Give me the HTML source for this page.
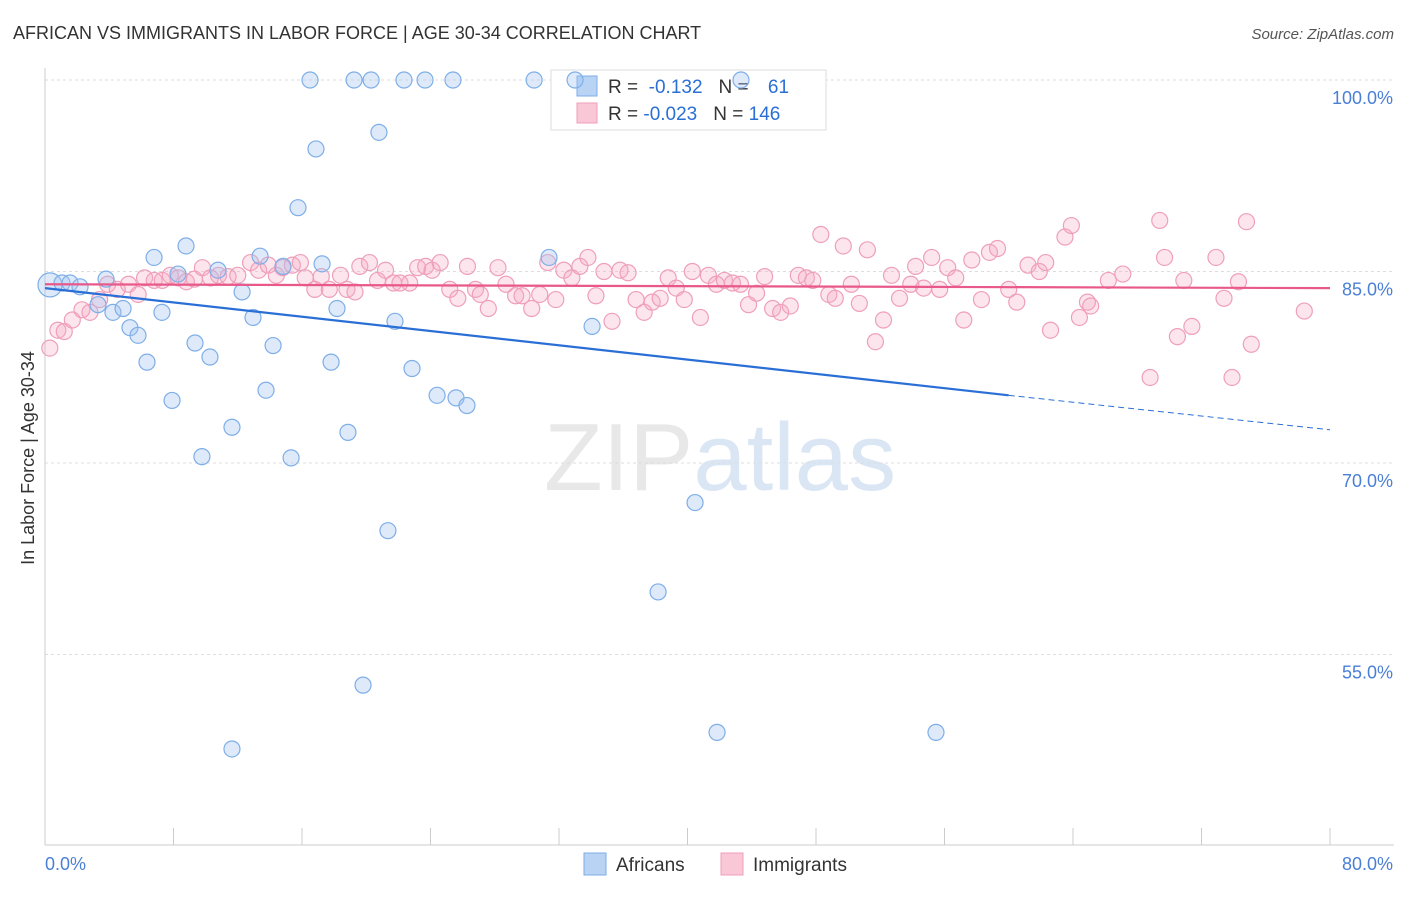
<!DOCTYPE html>
<html><head><meta charset="utf-8">
<style>
body{margin:0;background:#fff;font-family:"Liberation Sans",sans-serif;}
svg text{font-family:"Liberation Sans",sans-serif;}
</style></head>
<body>
<svg id="chart" width="1406" height="892" xmlns="http://www.w3.org/2000/svg">
<text x="13" y="39" font-size="18" fill="#333">AFRICAN VS IMMIGRANTS IN LABOR FORCE | AGE 30-34 CORRELATION CHART</text>
<text x="1394" y="39" font-size="15" fill="#555" text-anchor="end" font-style="italic">Source: ZipAtlas.com</text>
<text x="720" y="490" font-size="96" text-anchor="middle" fill="#e8e8e8" font-family="Liberation Serif">ZIP<tspan fill="#dbe6f5" font-family="Liberation Sans">atlas</tspan></text>
<g id="grid"></g>
<g id="axes"></g>
<g>
<rect x="551" y="70" width="275" height="60" fill="#fff" stroke="#ddd"/>
<rect x="577" y="76" width="20" height="20" fill="#b9d3f5" stroke="#7eaee8"/>
<rect x="577" y="103" width="20" height="20" fill="#f9c7d6" stroke="#ef9fba"/>
<text x="608" y="93" font-size="19" fill="#333">R = <tspan fill="#2a6fd6">&#160;-0.132</tspan><tspan dx="16">N = </tspan><tspan fill="#2a6fd6" dx="14">61</tspan></text>
<text x="608" y="120" font-size="19" fill="#333">R = <tspan fill="#2a6fd6">-0.023</tspan><tspan dx="16">N = </tspan><tspan fill="#2a6fd6">146</tspan></text>
</g>
<g id="pink"></g>
<g id="blue"></g>
<g id="trends"></g>
<text transform="translate(34,458) rotate(-90)" font-size="18" fill="#333" text-anchor="middle">In Labor Force | Age 30-34</text>
<g>
<rect x="584" y="853" width="22" height="22" fill="#b9d3f5" stroke="#7eaee8"/>
<text x="616" y="871" font-size="19" fill="#333">Africans</text>
<rect x="721" y="853" width="22" height="22" fill="#f9c7d6" stroke="#ef9fba"/>
<text x="753" y="871" font-size="19" fill="#333">Immigrants</text>
</g>
</svg>
<script>
const yTicks=[100,85,70,55];
const yTickLabels=["100.0%","85.0%","70.0%","55.0%"];
const xTickVals=[0,8,16,24,32,40,48,56,64,72,80];
const blueX=[0.31,1.06,1.56,2.18,3.30,3.80,4.23,4.86,5.29,5.79,6.35,6.79,7.28,7.91,8.28,8.78,9.34,9.77,10.27,10.77,11.64,12.27,12.95,13.39,13.76,14.20,14.82,15.32,15.75,16.50,16.87,17.25,17.81,18.18,18.86,19.24,19.80,20.30,20.79,21.35,21.79,22.35,22.85,23.66,24.41,25.40,25.59,26.27,30.45,31.38,33.00,34.06,38.17,40.47,41.84,43.33,55.47,11.64];
const blueY=[83.95,84.1,84.1,83.8,82.4,84.4,81.8,82.1,80.6,80.0,77.9,86.1,81.8,74.9,84.8,87.0,79.4,70.5,78.3,85.1,72.8,83.4,81.4,86.2,75.7,79.2,85.4,70.4,90.0,100,94.6,85.6,77.9,82.1,72.4,100,52.6,100,95.9,64.7,81.1,100,77.4,100,75.3,100,75.1,74.5,100,86.1,100,80.7,59.9,66.9,48.9,100,48.9,47.6];
const pinkX=[0.3,0.8,1.2,1.7,2.3,2.8,3.4,3.9,4.5,5.2,5.8,6.2,6.8,7.3,7.8,8.3,8.8,9.3,9.8,10.3,10.8,11.4,12.0,12.8,13.3,13.9,14.4,14.8,15.4,15.9,16.2,16.8,17.2,17.7,18.4,18.8,19.3,19.6,20.2,20.7,21.2,21.7,22.1,22.7,23.2,23.7,24.1,24.6,25.2,25.7,26.3,26.8,27.1,27.6,28.2,28.7,29.3,29.7,30.3,30.8,31.3,31.8,32.3,32.8,33.3,33.8,34.3,34.8,35.3,35.8,36.3,36.8,37.3,37.8,38.3,38.8,39.3,39.8,40.3,40.8,41.3,41.8,42.3,42.8,43.3,43.8,44.3,44.8,45.3,45.8,46.4,46.9,47.4,47.8,48.3,48.8,49.2,49.7,50.2,50.7,51.2,51.7,52.2,52.7,53.2,53.9,54.2,54.7,55.2,55.7,56.2,56.7,57.2,57.7,58.3,58.8,59.3,60.0,60.5,61.2,61.9,62.3,62.6,63.5,63.9,64.4,64.9,65.1,66.2,67.1,68.8,69.4,69.7,70.5,70.9,71.4,72.9,73.4,73.9,74.3,74.8,75.1,78.4];
const pinkY=[79.0,80.4,80.3,81.2,82.0,81.8,82.8,84.0,83.6,84.0,83.2,84.5,84.3,84.3,84.7,84.5,84.2,84.4,85.3,84.5,84.7,84.6,84.7,85.7,85.1,85.5,84.7,85.3,85.5,85.7,84.5,83.6,84.6,83.6,84.7,83.6,83.4,85.4,85.7,84.3,85.1,84.1,84.1,84.1,85.3,85.4,85.1,85.7,83.6,82.9,85.4,83.6,83.2,82.1,85.3,84.0,83.1,83.1,82.1,83.2,85.7,82.8,85.1,84.5,85.4,86.1,83.1,85.0,81.1,85.1,84.9,82.8,81.8,82.6,82.9,84.5,83.7,82.8,85.0,81.4,84.7,84.0,84.3,84.1,84.0,82.4,83.3,84.6,82.1,81.8,82.3,84.7,84.5,84.3,87.9,83.2,82.9,87.0,84.0,82.5,86.7,79.5,81.2,84.7,82.9,84.0,85.4,83.7,86.1,83.6,85.3,84.5,81.2,85.9,82.8,86.5,86.8,83.6,82.6,85.5,85.0,85.7,80.4,87.7,88.6,81.4,82.6,82.3,84.3,84.8,76.7,89.0,86.1,79.9,84.3,80.7,86.1,82.9,76.7,84.2,88.9,79.3,81.9];
const blueTrend=[[0,83.7],[60,75.3],[80,72.6]];
const pinkTrend=[[0,84.0],[80,83.7]];
const NS="http://www.w3.org/2000/svg";
const sx=v=>45+v/80*1285;
const sy=v=>80+(100-v)/15*191.5;
function mk(t,a,p){const e=document.createElementNS(NS,t);for(const k in a)e.setAttribute(k,a[k]);p.appendChild(e);return e;}
const grid=document.getElementById('grid'),axes=document.getElementById('axes');
yTicks.forEach((v,i)=>{
 const l=mk('line',{x1:45,x2:1394,y1:sy(v),y2:sy(v),stroke:'#ddd','stroke-dasharray':'3,3'},grid);
 
 
 const t=mk('text',{x:1393,y:sy(v)+24,'font-size':18,fill:'#4a7fd6','text-anchor':'end'},axes);
 t.textContent=yTickLabels[i];
 
 
});
mk('line',{x1:45,x2:45,y1:68,y2:845,stroke:'#ccc'},axes);
mk('line',{x1:45,x2:1394,y1:845,y2:845,stroke:'#ccc'},axes);
xTickVals.forEach(v=>{
 const l=mk('line',{x1:sx(v),x2:sx(v),y1:828,y2:845,stroke:'#ccc'},axes);
 
 
});
const xl=mk('text',{x:45,y:870,'font-size':18,fill:'#4a7fd6'},axes);xl.textContent='0.0%';


const xr=mk('text',{x:1393,y:870,'font-size':18,fill:'#4a7fd6','text-anchor':'end'},axes);xr.textContent='80.0%';


const pg=document.getElementById('pink');
pinkX.forEach((x,i)=>{
 const c=mk('circle',{cx:sx(x),cy:sy(pinkY[i]),r:8,fill:'rgba(245,170,195,0.3)',stroke:'#ef9fba','stroke-width':1.2},pg);
 
 
});
const bg=document.getElementById('blue');
blueX.forEach((x,i)=>{
 const c=mk('circle',{cx:sx(x),cy:sy(blueY[i]),r:i==0?12:8,fill:'rgba(160,196,240,0.35)',stroke:'#7eaee8','stroke-width':1.2},bg);
 
 
});
const tg=document.getElementById('trends');
const b1=mk('line',{x1:sx(blueTrend[0][0]),y1:sy(blueTrend[0][1]),x2:sx(blueTrend[1][0]),y2:sy(blueTrend[1][1]),stroke:'#2a6fd6','stroke-width':2.2},tg);


const b2=mk('line',{x1:sx(blueTrend[1][0]),y1:sy(blueTrend[1][1]),x2:sx(blueTrend[2][0]),y2:sy(blueTrend[2][1]),stroke:'#2a6fd6','stroke-width':1,'stroke-dasharray':'6,4'},tg);


const p1=mk('line',{x1:sx(pinkTrend[0][0]),y1:sy(pinkTrend[0][1]),x2:sx(pinkTrend[1][0]),y2:sy(pinkTrend[1][1]),stroke:'#e8588a','stroke-width':2.2},tg);


</script>
</body></html>
